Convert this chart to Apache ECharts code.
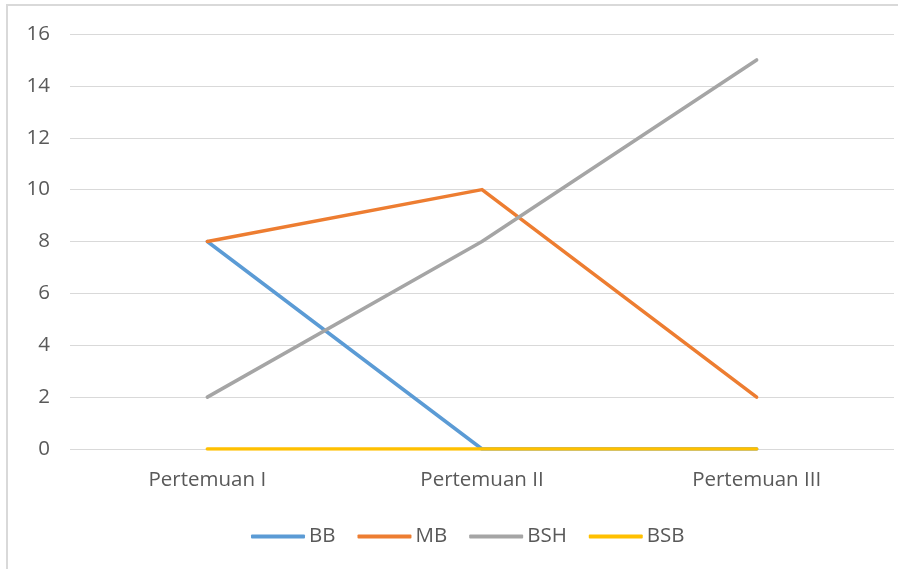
<!DOCTYPE html>
<html>
<head>
<meta charset="utf-8">
<script src="https://cdn.jsdelivr.net/npm/echarts@6/dist/echarts.min.js"></script>
<style>
  html, body { margin: 0; padding: 0; background: #fff; }
  #chart { width: 898px; height: 569px; }
</style>
</head>
<body>
<div id="chart"></div>
<script>
// Meeting categories and score counts per level
const categories = ['Pertemuan I', 'Pertemuan II', 'Pertemuan III'];
const seriesNames = ['BB', 'MB', 'BSH', 'BSB'];
const bbValues = [8, 0, 0];
const mbValues = [8, 10, 2];
const bshValues = [2, 8, 15];
const bsbValues = [0, 0, 0];
const seriesColors = ['#5B9BD5', '#ED7D31', '#A5A5A5', '#FFC000'];

const valueSets = [bbValues, mbValues, bshValues, bsbValues];
const fontFamily = '"Open Sans", "Noto Sans", sans-serif';
const textColor = '#595959';

const chart = echarts.init(document.getElementById('chart'));
chart.setOption({
  animation: false,
  backgroundColor: '#fff',
  graphic: [{
    type: 'rect',
    shape: { x: 7, y: 5, width: 900, height: 580 },
    style: { fill: 'none', stroke: '#D9D9D9', lineWidth: 2 },
    silent: true
  }],
  grid: { left: 70, right: 4, top: 34, bottom: 120 },
  legend: {
    left: 246,
    top: 521,
    icon: 'roundRect',
    itemWidth: 54,
    itemHeight: 4,
    itemGap: 22,
    textStyle: { color: textColor, fontSize: 20.5, fontFamily: fontFamily, padding: [0, 0, 0, -1] },
    data: seriesNames
  },
  xAxis: {
    type: 'category',
    data: categories,
    boundaryGap: true,
    axisLine: { show: false },
    axisTick: { show: false },
    axisLabel: { color: textColor, fontSize: 20.5, fontFamily: fontFamily, margin: 21 }
  },
  yAxis: {
    type: 'value',
    min: 0,
    max: 16,
    interval: 2,
    axisLine: { show: false },
    axisTick: { show: false },
    axisLabel: { color: textColor, fontSize: 20.5, fontFamily: fontFamily, margin: 20 },
    splitLine: { lineStyle: { color: '#D9D9D9', width: 1 } }
  },
  series: seriesNames.map((name, i) => ({
    name: name,
    type: 'line',
    data: valueSets[i],
    symbol: 'none',
    color: seriesColors[i],
    lineStyle: { width: 3.5, color: seriesColors[i], cap: 'round', join: 'round' },
    z: 2 + i
  }))
});
</script>
</body>
</html>
